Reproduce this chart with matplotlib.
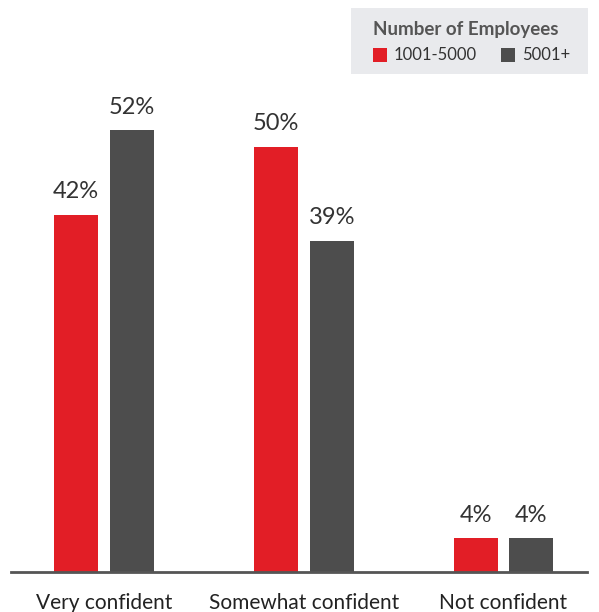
import matplotlib.pyplot as plt
from matplotlib.patches import Rectangle
import numpy as np

plt.rcParams['font.family'] = ['Lato', 'DejaVu Sans']

categories = ['Very confident', 'Somewhat confident', 'Not confident']
series_names = ['1001-5000', '5001+']
small_firms = [42, 50, 4]
large_firms = [52, 39, 4]
colors = ['#E21E26', '#4D4D4D']

W, H = 599, 612
fig = plt.figure(figsize=(W / 100, H / 100), dpi=100)

# axes placed in pixel terms: baseline at y=572, spanning x 11..587
left, right, bottom, top = 11, 587, 572, 60
ax = fig.add_axes([left / W, 1 - bottom / H, (right - left) / W, (bottom - top) / H])

x = np.arange(len(categories))
width = 0.22
offset = 0.14
for vals, color, shift in zip((small_firms, large_firms), colors, (-offset, offset)):
    bars = ax.bar(x + shift, vals, width, color=color, zorder=2)
    for b, v in zip(bars, vals):
        ax.annotate(f'{v}%', (b.get_x() + b.get_width() / 2, v),
                    xytext=(0, 9), textcoords='offset points',
                    ha='center', va='bottom', fontsize=17, color='#333333')

ax.set_xlim((left - 104) / 199.75, (right - 104) / 199.75)
ax.set_ylim(0, (bottom - top) / 8.5)
ax.set_xticks(x)
ax.set_xticklabels(categories, fontsize=15, color='#222222')
ax.tick_params(axis='x', length=0, pad=15)
ax.set_yticks([])
for side in ('top', 'right', 'left'):
    ax.spines[side].set_visible(False)
ax.spines['bottom'].set_color('#555555')
ax.spines['bottom'].set_linewidth(2)

# legend box drawn by hand in the top right corner
def px(xp, yp):
    return xp / W, 1 - yp / H

fig.patches.append(Rectangle(px(351, 74), 237 / W, 66 / H, transform=fig.transFigure,
                             facecolor='#E9EAED', edgecolor='none'))
fig.text(*px(373, 29), 'Number of Employees', fontsize=13.5, fontweight='bold',
         color='#555555', va='center', ha='left')
for (xs, label), color in zip(((373, series_names[0]), (501, series_names[1])), colors):
    fig.patches.append(Rectangle(px(xs, 62), 14 / W, 14 / H, transform=fig.transFigure,
                                 facecolor=color, edgecolor='none'))
    fig.text(*px(xs + 21, 55), label, fontsize=12, color='#333333', va='center', ha='left')

fig.savefig('out.png', dpi=100)
